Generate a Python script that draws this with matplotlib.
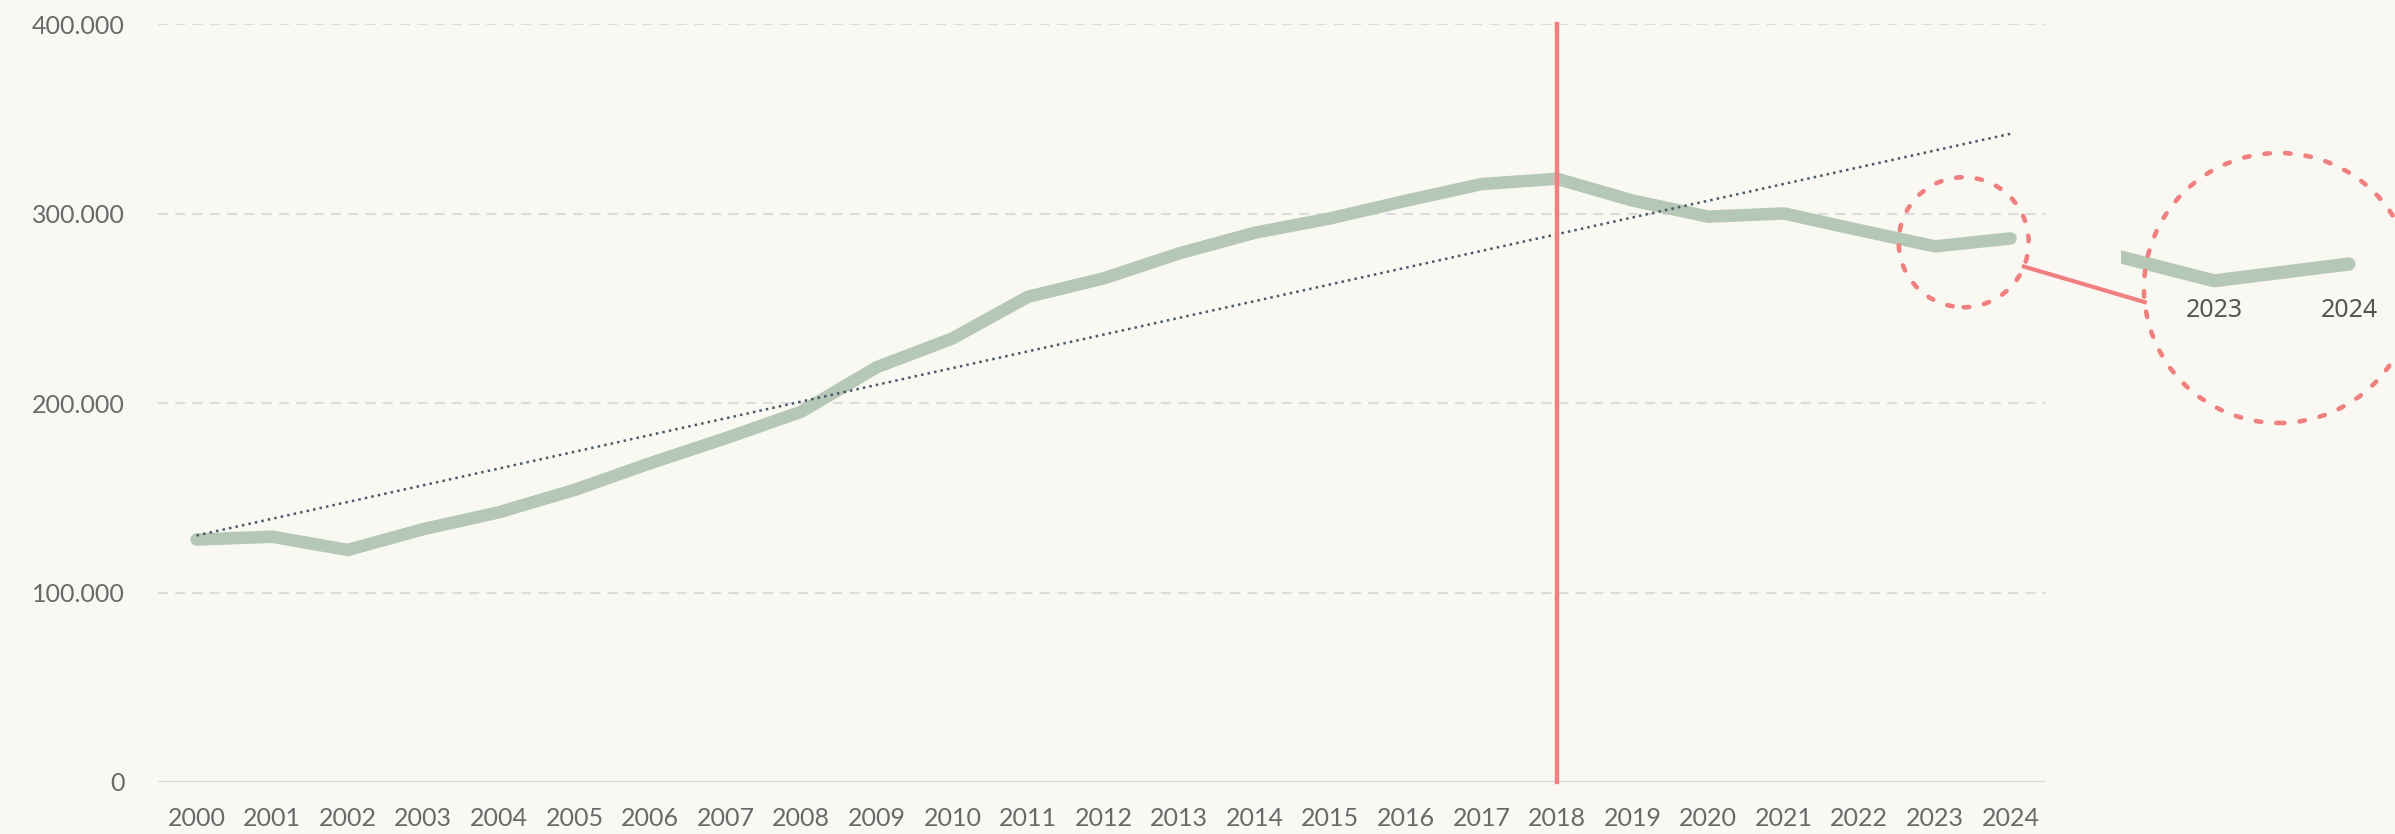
import numpy as np
import matplotlib
matplotlib.use('Agg')
import matplotlib.pyplot as plt
from matplotlib.patches import Ellipse

# Data
years = list(range(2000, 2025))
values = [128000, 129500, 122500, 133500, 142400, 154200, 168300, 181500, 195500,
          219000, 234200, 256200, 265900, 279100, 290000, 297600, 306900, 315700,
          318500, 307000, 298500, 300200, 291400, 282800, 287000]
ytick_vals = [0, 100000, 200000, 300000, 400000]
ytick_labels = ['0', '100.000', '200.000', '300.000', '400.000']
marker_year = 2018
zoom_years = [2023, 2024]

bg = '#f9f8f2'
green = '#b5c8b5'
red = '#f08080'
grey_text = '#67696b'

plt.rcParams['font.family'] = ['Lato', 'DejaVu Sans']

fig = plt.figure(figsize=(23.95, 8.34), dpi=100)
fig.patch.set_facecolor(bg)

ax = fig.add_axes([0.0660, 0.0624, 0.7883, 0.9083])
ax.set_facecolor(bg)
ax.set_xlim(1999.49, 2024.47)
ax.set_ylim(0, 400000)

# gridlines
for v in ytick_vals[1:]:
    ax.axhline(v, color='#dcdcdc', lw=1.5, dashes=(4.8, 3.5), zorder=1)
ax.axhline(0, color='#d8d8d8', lw=1.6, zorder=1)

# trend line
coef = np.polyfit(years, values, 1)
trend = np.polyval(coef, [years[0], years[-1]])
ax.plot([years[0], years[-1]], trend, color='#4a5a6b', lw=1.8, ls=':', zorder=3)

# main series
ax.plot(years, values, color=green, lw=9, solid_capstyle='round',
        solid_joinstyle='round', zorder=2)

# marker line
ax.plot([marker_year, marker_year], [0, 400000], color=red, lw=3.2,
        clip_on=False, zorder=4)

for s in ax.spines.values():
    s.set_visible(False)
ax.set_yticks(ytick_vals)
ax.set_yticklabels(ytick_labels)
ax.set_xticks(years)
ax.set_xticklabels([str(y) for y in years])
ax.tick_params(axis='both', length=0, labelsize=18, colors=grey_text)
ax.tick_params(axis='y', pad=24)
ax.tick_params(axis='x', pad=18)

# inset (zoomed view of last years)
axin = fig.add_axes([0.8856, 0.6523, 0.1144, 0.1679])
axin.set_facecolor('none')
axin.set_xlim(2022.31, 2024.34)
axin.set_ylim(280500, 315500)
axin.plot(years, values, color=green, lw=9.5, solid_capstyle='round',
          solid_joinstyle='round')
for s in axin.spines.values():
    s.set_visible(False)
axin.set_yticks([])
axin.set_xticks(zoom_years)
axin.set_xticklabels([str(y) for y in zoom_years], family=['Noto Sans', 'DejaVu Sans'])
axin.tick_params(axis='x', length=0, labelsize=18, colors='#555555', pad=6)

# circles
fig.canvas.draw()
def px_ellipse(axis, center, r_px):
    p0 = axis.transData.transform((0, 0))
    p1 = axis.transData.transform((1, 1))
    sx, sy = p1[0] - p0[0], p1[1] - p0[1]
    e = Ellipse(center, 2 * r_px / sx, 2 * r_px / sy, fill=False, ec=red, lw=3.3,
                ls=(0, (1.2, 3.3)), capstyle='round', clip_on=False, zorder=5)
    axis.add_patch(e)
    return axis.transData.transform(center)

c_small = px_ellipse(ax, (2023.38, 285000), 65)
c_big = px_ellipse(axin, (2023.48, 281000), 135)

a1 = np.deg2rad(-22)
a2 = np.deg2rad(186)
p_start = (c_small[0] + 65 * np.cos(a1), c_small[1] + 65 * np.sin(a1))
p_end = (c_big[0] + 135 * np.cos(a2), c_big[1] + 135 * np.sin(a2))
inv = fig.transFigure.inverted()
q1 = inv.transform(p_start)
q2 = inv.transform(p_end)
fig.add_artist(plt.Line2D([q1[0], q2[0]], [q1[1], q2[1]], color=red, lw=3,
                          transform=fig.transFigure))

fig.savefig('out.png', dpi=100, facecolor=bg)
